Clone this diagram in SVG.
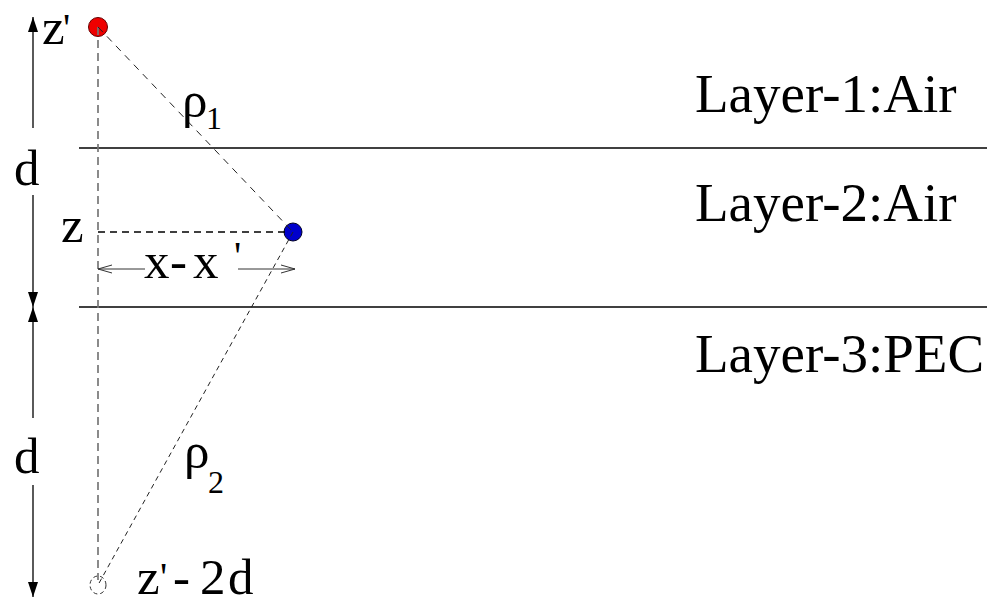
<svg xmlns="http://www.w3.org/2000/svg" width="995" height="602" viewBox="0 0 995 602">
<defs>
<style>
.t{font-family:"Liberation Serif","Times New Roman",serif;fill:#000}
.big{font-size:51px}
.lay{font-size:55px}
.sub{font-size:32px}
.pr{font-size:40px}
.solid{stroke:#000;stroke-width:1.3;fill:none}
.thin{stroke:#333;stroke-width:1;fill:none}
</style>
<marker id="fa" viewBox="0 0 15 10" refX="15" refY="5" markerWidth="15" markerHeight="10" markerUnits="userSpaceOnUse" orient="auto">
<path d="M0,0 L15,5 L0,10 Z" fill="#000"/>
</marker>
<marker id="oa" viewBox="0 0 14 10" refX="14" refY="5" markerWidth="14" markerHeight="10" markerUnits="userSpaceOnUse" orient="auto">
<path d="M0,1 L14,5 L0,9" fill="none" stroke="#333" stroke-width="1"/>
</marker>
</defs>
<rect width="995" height="602" fill="#fff"/>

<g id="interfaces">
<line x1="79" y1="148" x2="987" y2="148" class="solid"/>
<line x1="79" y1="307" x2="987" y2="307" class="solid"/>
</g>

<g id="source">
<circle cx="98" cy="27" r="9.5" fill="#ee0000" stroke="#600" stroke-width="1"/>
</g>
<g id="observer">
<circle cx="293" cy="232" r="9" fill="#0000cc" stroke="#002" stroke-width="1"/>
</g>
<g id="image">
<ellipse cx="98" cy="585" rx="8" ry="9" fill="none" stroke="#333" stroke-width="1" stroke-dasharray="4 3"/>
</g>

<g id="connectors">
<line x1="98" y1="27" x2="98" y2="580" stroke="#777" stroke-width="1.7" stroke-dasharray="8 5"/>
<line x1="98" y1="27" x2="293" y2="232" stroke="#222" stroke-width="1" stroke-dasharray="7 6"/>
<line x1="293" y1="232" x2="98" y2="585" stroke="#222" stroke-width="1" stroke-dasharray="5 4"/>
<line x1="98" y1="232" x2="285" y2="232" stroke="#000" stroke-width="1.3" stroke-dasharray="7 5"/>
<line x1="145" y1="269" x2="98" y2="269" class="thin" marker-end="url(#oa)"/>
<line x1="238" y1="269" x2="295" y2="269" class="thin" marker-end="url(#oa)"/>
<line x1="33" y1="128" x2="33" y2="17" class="solid" marker-end="url(#fa)"/>
<line x1="33" y1="195" x2="33" y2="307" class="solid" marker-end="url(#fa)"/>
<line x1="33" y1="418" x2="33" y2="307" class="solid" marker-end="url(#fa)"/>
<line x1="33" y1="485" x2="33" y2="597" class="solid" marker-end="url(#fa)"/>
</g>

<g id="labels">
<text class="t big" x="42" y="44">z</text>
<text class="t pr" x="63" y="41">'</text>
<text class="t big" x="14" y="185">d</text>
<text class="t big" x="14" y="473">d</text>
<text class="t big" x="61" y="242">z</text>
<text class="t big" y="278"><tspan x="144">x</tspan><tspan x="170">-</tspan><tspan x="193">x</tspan></text>
<text class="t pr" x="234" y="269">'</text>
<text class="t big" x="182" y="117">ρ</text>
<text class="t sub" x="206" y="129">1</text>
<text class="t big" x="184" y="468">ρ</text>
<text class="t sub" x="208" y="493">2</text>
<text class="t big" x="137" y="594">z</text>
<text class="t pr" x="160" y="590">'</text>
<text class="t big" y="594"><tspan x="173">-</tspan><tspan x="200">2</tspan><tspan x="228">d</tspan></text>
<text class="t lay" x="695" y="112">Layer-1:Air</text>
<text class="t lay" x="695" y="221">Layer-2:Air</text>
<text class="t lay" x="695" y="372">Layer-3:PEC</text>
</g>
</svg>
